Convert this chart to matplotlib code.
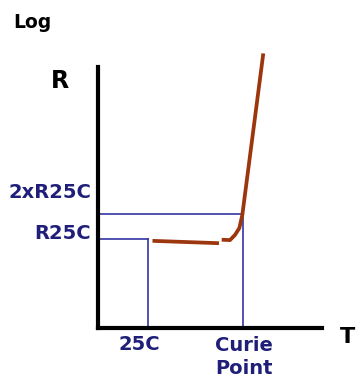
import matplotlib

matplotlib.use("Agg")
import matplotlib.pyplot as plt

# conceptual data: temperature (C) vs resistance (normalised to R25C), log scale
t_ref = 25
t_curie = 120
r_ref = 1.0
r_double = 2.0

flat_t = [29.5, 96]
flat_r = [0.95, 0.89]
rise_t = [98.7, 107, 112, 116.3, 119.3, 140.3]
rise_r = [0.98, 0.97, 1.12, 1.35, 1.94, 172.0]

navy = "#1f1f7a"
blue = "#3333a3"
curve = "#9c360c"

W, H = 361, 389
fig = plt.figure(figsize=(W / 100, H / 100), dpi=100)
ax = fig.add_axes([98 / W, 1 - 328 / H, 224 / W, 261 / H])
ax.set_yscale("log")
ax.set_xlim(-25, 199)
ax.set_ylim(0.0847, 118)

for side in ("top", "right"):
    ax.spines[side].set_visible(False)
for side in ("left", "bottom"):
    ax.spines[side].set_linewidth(3)
    ax.spines[side].set_color("black")
    ax.spines[side].set_zorder(5)
ax.set_xticks([])
ax.set_yticks([])
ax.minorticks_off()
ax.patch.set_alpha(0)

# guide lines
ax.plot([-25, t_ref], [r_ref, r_ref], color=blue, lw=1.2)
ax.plot([t_ref, t_ref], [0.0847, r_ref], color=blue, lw=1.2)
ax.plot([-25, t_curie], [r_double, r_double], color=blue, lw=1.2)
ax.plot([t_curie, t_curie], [0.0847, r_double], color=blue, lw=1.2)

# resistance curve
ax.plot(flat_t, flat_r, color=curve, lw=2.7, solid_capstyle="butt", clip_on=False)
ax.plot(rise_t, rise_r, color=curve, lw=2.7, solid_capstyle="butt",
        solid_joinstyle="round", clip_on=False, zorder=4)

bold = dict(fontweight="bold", family="DejaVu Sans")
fig.text(32 / W, 1 - 22 / H, "Log", ha="center", va="center", fontsize=13.5, **bold)
fig.text(60 / W, 1 - 81 / H, "R", ha="center", va="center", fontsize=17, **bold)
fig.text(347 / W, 1 - 337 / H, "T", ha="center", va="center", fontsize=16, **bold)
fig.text(91 / W, 1 - 193 / H, "2xR25C", ha="right", va="center", fontsize=14,
         color=navy, **bold)
fig.text(91 / W, 1 - 234 / H, "R25C", ha="right", va="center", fontsize=14,
         color=navy, **bold)
fig.text(139 / W, 1 - 344 / H, "25C", ha="center", va="center", fontsize=14,
         color=navy, **bold)
fig.text(244 / W, 1 - 357 / H, "Curie\nPoint", ha="center", va="center",
         fontsize=14, color=navy, linespacing=1.3, **bold)

fig.savefig("out.png", dpi=100)
